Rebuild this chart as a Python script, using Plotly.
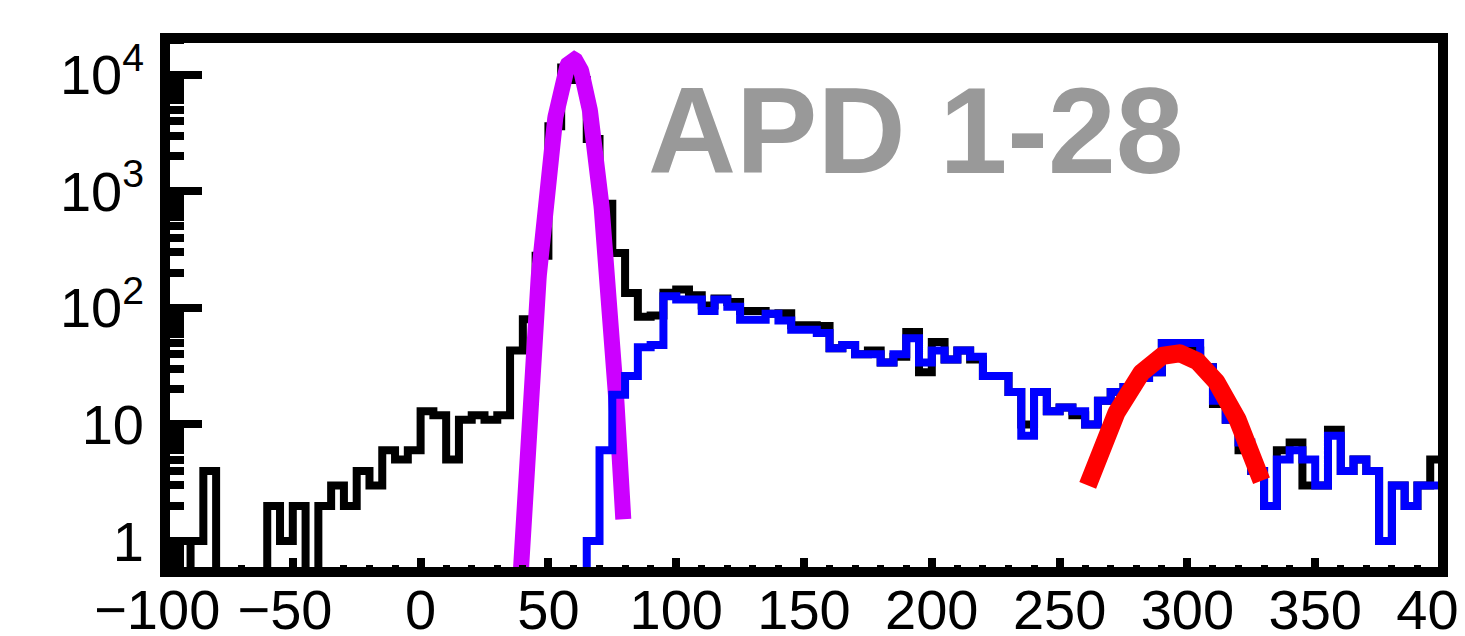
import numpy as np
import plotly.graph_objects as go

# ---------------- data ----------------
bin_lo, bin_hi, bin_w = -100, 400, 5

# black histogram (all events), one value per 5-unit bin from -100 to 400
all_counts = [
    1, 0, 1, 4, 0, 0, 0, 0, 2, 1, 2, 0, 2, 3, 2, 4, 3, 6, 5, 6,
    13, 12, 5, 11, 12, 11, 12, 43, 80, 280, 3600, 11500, 9000, 2800, 780, 296, 134, 84, 86, 135,
    144, 128, 105, 120, 112, 94, 94, 89, 90, 71, 71, 70, 45, 48, 40, 43, 34, 38, 62, 28,
    51, 36, 43, 36, 26, 26, 19, 10, 19, 13, 14, 12, 10, 16, 19, 21, 25, 28, 50, 50,
    43, 31, 15, 11, 6, 4, 2, 6, 7, 3, 3, 9, 4, 5, 4, 1, 3, 2, 3, 5,
]
# blue histogram (selected events)
sel_counts = [
    0, 0, 0, 0, 0, 0, 0, 0, 0, 0, 0, 0, 0, 0, 0, 0, 0, 0, 0, 0,
    0, 0, 0, 0, 0, 0, 0, 0, 0, 0, 0, 0, 0, 1, 6, 18, 26, 46, 48, 126,
    118, 118, 94, 118, 102, 79, 79, 89, 78, 65, 65, 61, 45, 48, 40, 40, 34, 40, 55, 34,
    43, 36, 43, 38, 26, 26, 19, 8, 19, 13, 14, 13, 10, 16, 19, 21, 25, 28, 50, 50,
    50, 31, 16, 11, 7, 4, 2, 5, 6, 5, 3, 8, 4, 5, 4, 1, 3, 2, 3, 3,
]

# Gaussian fits (amplitude, mean, sigma, drawn range)
pedestal_fit = dict(amp=13500.0, mean=59.7, sigma=4.6, lo=38.0, hi=79.3)
signal_fit = dict(amp=41.0, mean=295.3, sigma=15.0, lo=261.0, hi=329.0)

x_tick_vals = [-100, -50, 0, 50, 100, 150, 200, 250, 300, 350, 400]
x_tick_text = ["\u2212100\u00a0", "\u221250\u00a0", "0", "50", "100", "150",
               "200", "250", "300", "350", "400"]
y_tick_vals = [1, 10, 100, 1000, 10000]
y_tick_text = ["1", "10", "10<sup>2</sup>", "10<sup>3</sup>", "10<sup>4</sup>"]

label_text = "APD 1-28"

# ---------------- helpers ----------------
edges = np.arange(bin_lo, bin_hi + bin_w, bin_w)
floor_val = 1e-3  # empty bins drawn below the visible log range


def step_xy(counts):
    c = np.asarray(counts, dtype=float)
    c = np.where(c > 0, c, floor_val)
    y = np.append(c, c[-1])
    return edges, y


def gauss_xy(p, n=300):
    xs = np.linspace(p["lo"], p["hi"], n)
    ys = p["amp"] * np.exp(-0.5 * ((xs - p["mean"]) / p["sigma"]) ** 2)
    return xs, ys


fig = go.Figure()

hx, hy = step_xy(all_counts)
fig.add_trace(go.Scatter(x=hx, y=hy, mode="lines", line=dict(shape="hv", color="black", width=8),
                         showlegend=False, hoverinfo="skip"))

gx, gy = gauss_xy(pedestal_fit)
fig.add_trace(go.Scatter(x=gx, y=gy, mode="lines", line=dict(color="#cc00ff", width=16),
                         showlegend=False, hoverinfo="skip"))

sx, sy = step_xy(sel_counts)
fig.add_trace(go.Scatter(x=sx, y=sy, mode="lines", line=dict(shape="hv", color="#0000ff", width=8),
                         showlegend=False, hoverinfo="skip"))

rx, ry = gauss_xy(signal_fit)
fig.add_trace(go.Scatter(x=rx, y=ry, mode="lines", line=dict(color="#ff0000", width=18),
                         showlegend=False, hoverinfo="skip"))

# page has an 8px body margin: figure is drawn 8px right/down of the window origin
W, H = 1457, 628
ml, mr, mt, mb = 156.5, 21.5, 30, 64

tick_font = dict(size=56, family="Liberation Sans, Arial, Helvetica, sans-serif", color="black")

fig.update_layout(
    width=W, height=H,
    margin=dict(l=ml, r=mr, t=mt, b=mb, pad=0),
    paper_bgcolor="white", plot_bgcolor="white",
    font=dict(family="Liberation Sans, Arial, Helvetica, sans-serif", color="black"),
    xaxis=dict(
        range=[bin_lo, bin_hi], showgrid=False, zeroline=False, showline=False,
        tickmode="array", tickvals=x_tick_vals, ticktext=x_tick_text, tickangle=0,
        automargin=False,
        ticks="inside", ticklen=14, tickwidth=8, tickcolor="black",
        tickfont=tick_font, ticklabeloverflow="allow", ticklabelstandoff=0,
        minor=dict(ticks="inside", ticklen=7, tickwidth=7, tickcolor="black", dtick=10, showgrid=False),
    ),
    yaxis=dict(
        type="log", range=[-0.265, 4.314], showgrid=False, zeroline=False, showline=False,
        tickmode="array", tickvals=y_tick_vals, ticktext=y_tick_text, automargin=False,
        ticks="inside", ticklen=37, tickwidth=8, tickcolor="black",
        tickfont=tick_font, ticklabelstandoff=20,
        minor=dict(ticks="inside", ticklen=19, tickwidth=8, tickcolor="black", dtick="D1", showgrid=False),
    ),
    shapes=[dict(type="rect", xref="paper", yref="paper", x0=0, x1=1, y0=0, y1=1,
                 line=dict(color="black", width=10), fillcolor="rgba(0,0,0,0)", layer="above")],
    annotations=[dict(text="<b>" + label_text + "</b>", xref="paper", yref="paper",
                      x=(638 - ml) / (W - ml - mr), y=(H - mb - 123) / (H - mt - mb),
                      xanchor="left", yanchor="middle", showarrow=False,
                      font=dict(size=122, color="#999999", family="Liberation Sans, Arial, sans-serif"))],
)

fig.write_html("out.html")
